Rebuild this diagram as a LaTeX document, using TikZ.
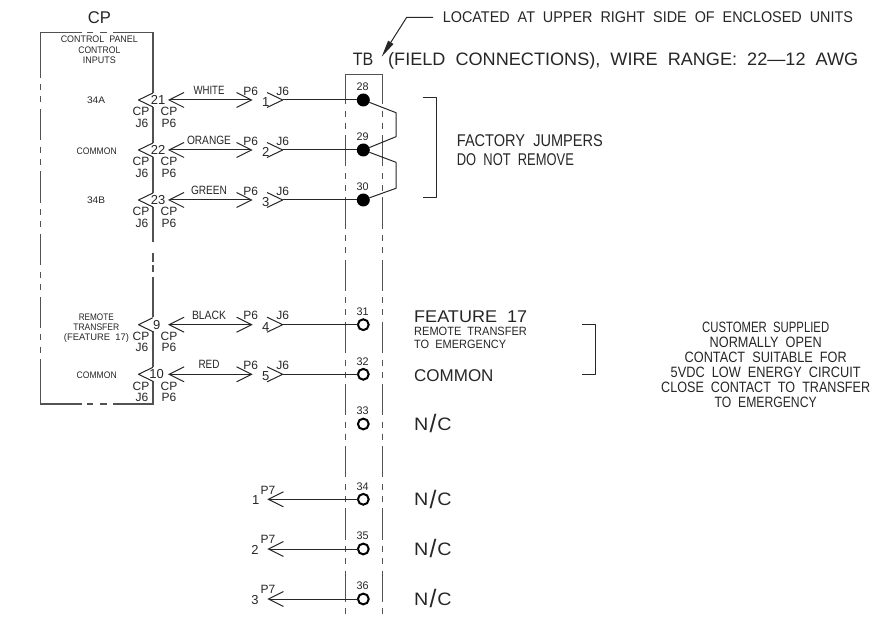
\documentclass[tikz,border=0pt]{standalone}
\usepackage{fontspec}
\setmainfont[WordSpace=2]{Liberation Sans}
\usetikzlibrary{arrows.meta}
\definecolor{ink}{gray}{0.15}
\newcommand\tw[2]{\resizebox{#1pt}{\height}{#2}}
\newcommand\ncslash{\hspace{1pt}\raisebox{-0.13em}{\scalebox{1.25}[1.4]{/}}\hspace{1pt}}
\tikzset{
  lab/.style={font=\fontsize{#1}{#1}\selectfont, inner sep=0pt, anchor=base, yshift={-0.358pt*#1}, text=ink},
  labl/.style={font=\fontsize{#1}{#1}\selectfont, inner sep=0pt, anchor=base west, yshift={-0.358pt*#1}, text=ink},
  wire/.style={draw=ink, line width=1pt, line join=round},
  boxline/.style={draw=ink!80, line width=1.2pt},
  filledterm/.style={circle, fill=black, minimum size=13pt, inner sep=0pt, outer sep=0pt},
  openterm/.style={circle, draw=black, line width=2pt, fill=white, minimum size=10.8pt, inner sep=0pt, outer sep=0pt},
  barbs/.style={{Straight Barb[length=15pt,width=15pt,line width=1pt]}-{Straight Barb[length=15pt,width=15pt,line width=1pt]}},
  barbend/.style={-{Straight Barb[length=15pt,width=15pt,line width=1pt]}}
}
\begin{document}
\begin{tikzpicture}[x=1pt,y=-1pt]
\useasboundingbox (0,0) rectangle (885,617);
% CP box
\draw[boxline] (40.5,47) -- (40.5,32.7) -- (82,32.7) (87,32.7) -- (93,32.7) (100,32.7) -- (107,32.7) (113,32.7) -- (153,32.7) -- (153,93);
\foreach \s in {46.5,109,171.5,234,296.5}{
  \draw[boxline] (40.5,\s) -- ++(0,31.2) ++(0,6.5) -- ++(0,6) ++(0,6.3) -- ++(0,6);
}
\draw[boxline] (40.5,359) -- (40.5,404) -- (82,404) (87,404) -- (93,404) (100,404) -- (107,404) (113,404) -- (153,404) -- (153,381);
\draw[boxline] (153,107) -- (153,143) (153,157) -- (153,193) (153,207) -- (153,242) (153,253) -- (153,262) (153,265) -- (153,272) (153,277) -- (153,317) (153,331) -- (153,367);
% CP chevrons
\foreach \y in {100,150,200,324.7,374.3}{
  \draw[wire] (153,\y-7) -- (138.5,\y) -- (153,\y+7);
}
% TB box
\draw[boxline, line width=1pt] (345,75) -- (382.7,75);
\foreach \x in {345,382.7}{
  \draw[boxline, line width=1pt, dash pattern=on 31.2pt off 6.5pt on 6pt off 6pt on 6pt off 6.5pt, dash phase=2pt] (\x,75) -- (\x,615);
}
% terminals
\foreach \n/\y/\s in {28/100/filledterm,29/150/filledterm,30/200/filledterm,31/324.7/openterm,32/374.3/openterm,33/424/openterm,34/499.3/openterm,35/549/openterm,36/599/openterm}{
  \node[\s] (t\n) at (363.3,\y) {};
  \node[lab=11] (n\n) at (362.5,\y-13) {\tw{12}{\n}};
}
% wires and connectors
\foreach \y/\t/\pin/\col/\cw/\num/\xa/\xp in {100/t28/21/WHITE/31/1/158/265.7,150/t29/22/ORANGE/44/2/158/265.7,200/t30/23/GREEN/36/3/158/265.7,324.7/t31/9/BLACK/34/4/156.7/265.7,374.3/t32/10/RED/21/5/156.7/265.7}{
  \coordinate (wl) at (168,\y);
  \coordinate (wr) at (252.7,\y);
  \coordinate (jc) at (282.7,\y);
  \draw[wire, barbs] (wl) -- (wr);
  \draw[wire] (267,\y-7.5) -- (jc) -- (267,\y+7.5);
  \draw[wire] (jc) -- (\t);
  \node[lab=13] (pin\pin) at (\xa,\y) {\pin};
  \node[lab=12] at (209,\y-9.7) {\tw{\cw}{\col}};
  \node[lab=12] at (250.7,\y-9.2) {P6};
  \node[lab=12] at (282.7,\y-9.2) {J6};
  \node[lab=13] at (\xp,\y+1.7) {\num};
  \node[lab=12] at (141,\y+11.7) {CP};
  \node[lab=12] at (142,\y+22.8) {J6};
  \node[lab=12] at (169,\y+11.7) {CP};
  \node[lab=12] at (169,\y+22.8) {P6};
}
% P7 connectors
\foreach \y/\t/\num/\xn in {499.3/t34/1/255.7,549/t35/2/255,599/t36/3/255}{
  \coordinate (e\num) at (267.3,\y);
  \draw[wire, barbend] (\t) -- (e\num);
  \node[lab=13] at (\xn,\y+0.5) {\num};
  \node[lab=12] at (268,\y-9.5) {P7};
}
% N/C
\foreach \y in {424,499.3,549,599}{
  \node[labl=18] at (414,\y) {\tw{37.5}{N\ncslash C}};
}
% jumpers
\draw[wire] (t28) -- (396,112.7) -- (396,136.7) -- (t29);
\draw[wire] (t29) -- (396,162.3) -- (396,188.3) -- (t30);
% brackets
\draw[wire] (422.7,98) -- (436,98) -- (436,198) -- (422.7,198);
\draw[wire] (582.3,324.7) -- (595,324.7) -- (595,374) -- (582.3,374);
% leader
\coordinate (lead) at (433,17.3);
\coordinate (leadtip) at (381.7,56.7);
\draw[wire, -{Triangle[length=17pt,width=6pt]}] (lead) -- (406.7,17.3) -- (leadtip);
% texts
\node[lab=17] at (99.3,17.7) {\tw{23}{CP}};
\node[lab=9.5] at (99.3,39.3) {\tw{77}{CONTROL PANEL}};
\node[lab=9.5] at (99.3,50.3) {\tw{42}{CONTROL}};
\node[lab=9.5] at (99.3,60.3) {\tw{33}{INPUTS}};
\node[lab=9.5] at (96,100) {\tw{18}{34A}};
\node[lab=9.5] at (96.7,150.7) {\tw{40}{COMMON}};
\node[lab=9.5] at (96,200) {\tw{18}{34B}};
\node[lab=9.5] at (96.3,316.7) {\tw{35}{REMOTE}};
\node[lab=9.5] at (96.3,326.7) {\tw{46}{TRANSFER}};
\node[lab=9.5] at (96.5,336.7) {\tw{65}{(FEATURE 17)}};
\node[lab=9.5] at (96.7,375.3) {\tw{40}{COMMON}};
\node[labl=15.5] at (442.7,17.3) {\tw{410}{LOCATED AT UPPER RIGHT SIDE OF ENCLOSED UNITS}};
\node[labl=18] at (352.7,59.3) {\tw{20.5}{TB}};
\node[labl=18] at (388,59.3) {\tw{470}{(FIELD CONNECTIONS), WIRE RANGE: 22---12 AWG}};
\node[labl=17] at (456.7,140) {\tw{146}{FACTORY JUMPERS}};
\node[labl=17] at (456.7,159) {\tw{117}{DO NOT REMOVE}};
\node[labl=17] at (414,316) {\tw{113}{FEATURE 17}};
\node[labl=12] at (414,331.7) {\tw{112.7}{REMOTE TRANSFER}};
\node[labl=12] at (414,344.3) {\tw{92}{TO EMERGENCY}};
\node[labl=17] at (414,375) {\tw{79.3}{COMMON}};
\node[lab=15] at (765.7,327.3) {\tw{127}{CUSTOMER SUPPLIED}};
\node[lab=15] at (765.7,341.7) {\tw{112}{NORMALLY OPEN}};
\node[lab=15] at (765.7,356.7) {\tw{162}{CONTACT SUITABLE FOR}};
\node[lab=15] at (765.7,371.7) {\tw{190}{5VDC LOW ENERGY CIRCUIT}};
\node[lab=15] at (765.7,386.7) {\tw{209}{CLOSE CONTACT TO TRANSFER}};
\node[lab=15] at (765.7,401.7) {\tw{102}{TO EMERGENCY}};
\end{tikzpicture}
\end{document}
